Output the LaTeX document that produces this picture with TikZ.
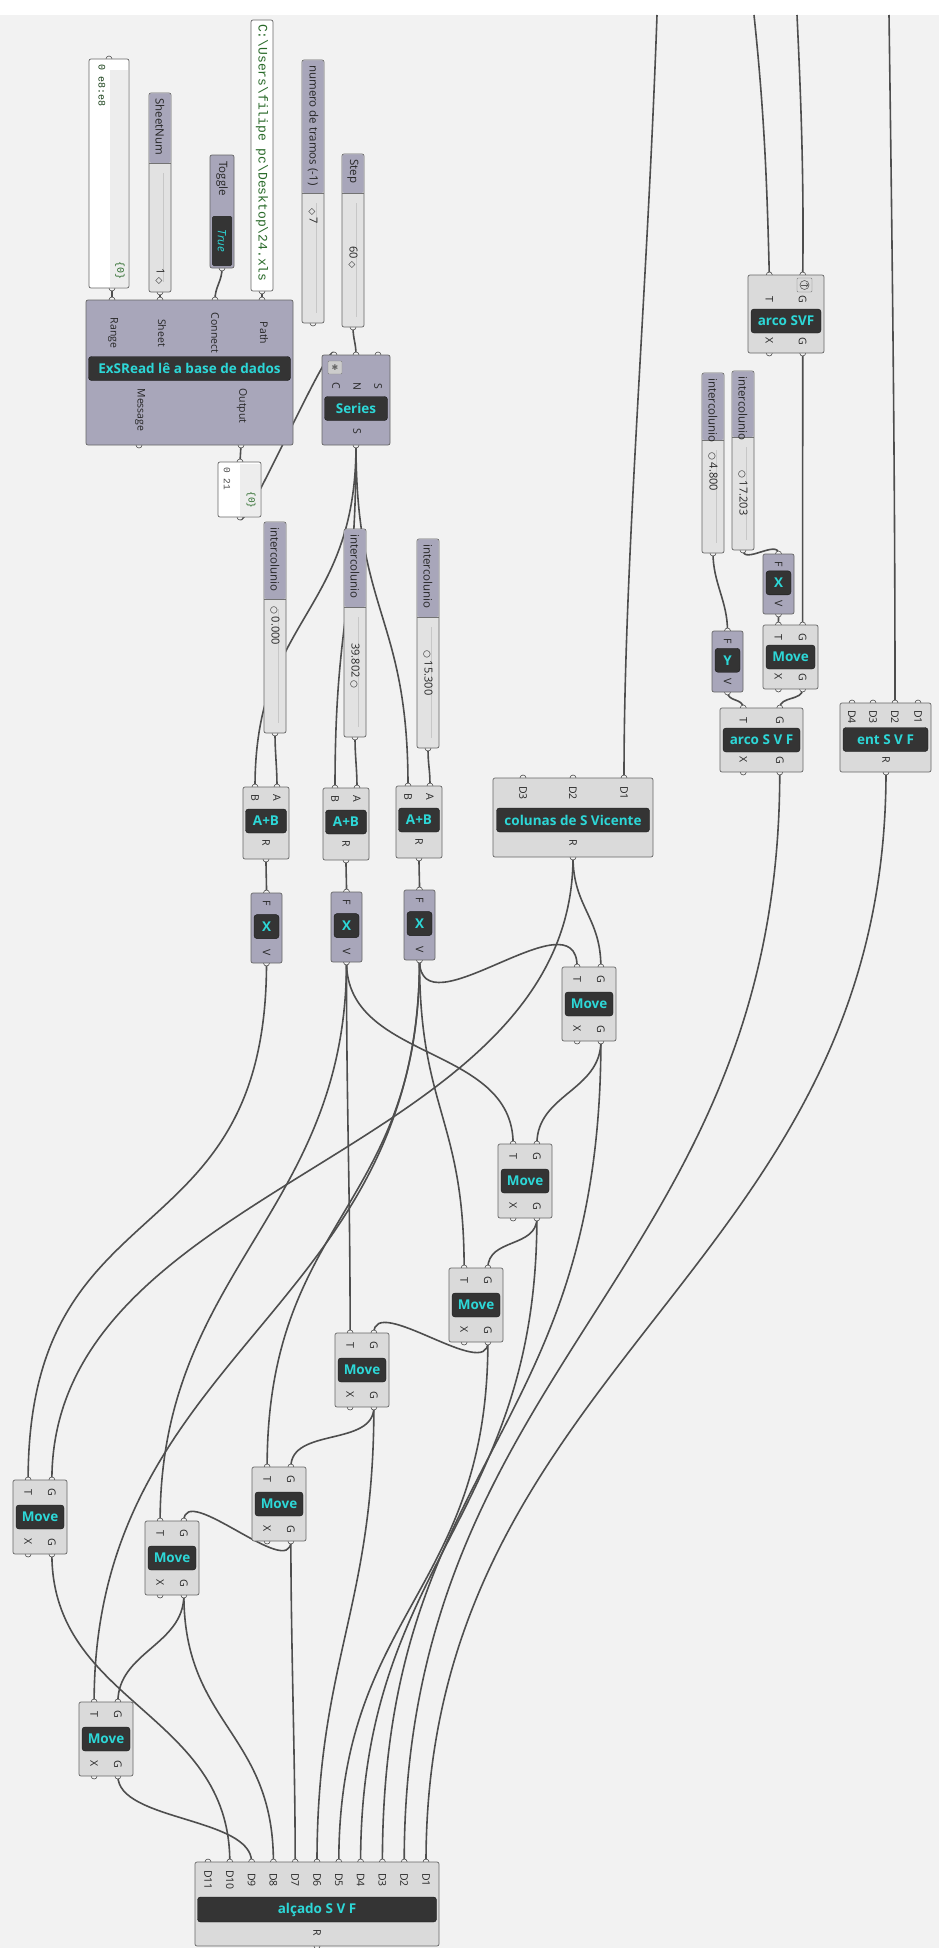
\documentclass[tikz,border=0pt]{standalone}
\usepackage{fontspec}
\setmainfont{Open Sans}
\setmonofont{Liberation Mono}
\newfontfamily\symfont{DejaVu Sans}
\usetikzlibrary{calc}

\definecolor{canvasgray}{RGB}{242,242,242}
\definecolor{boxgray}{RGB}{218,218,218}
\definecolor{sliderbody}{RGB}{226,226,226}
\definecolor{boxlilac}{RGB}{168,166,186}
\definecolor{barblack}{RGB}{52,52,52}
\definecolor{barcyan}{RGB}{45,215,215}
\definecolor{wiregray}{RGB}{78,78,78}
\definecolor{portwhite}{RGB}{245,245,245}
\definecolor{panelgreen}{RGB}{40,105,40}

\pgfdeclarelayer{canvas}
\pgfdeclarelayer{wires}
\pgfsetlayers{canvas,wires,main}

\tikzset{
  wire/.style={draw=wiregray,line width=1.6pt},
  port/.style={fill=portwhite,draw=black!70,line width=.6pt},
  greybox/.style={fill=boxgray,draw=black!60,line width=.7pt,rounded corners=2pt},
  lilacbox/.style={fill=boxlilac,draw=black!60,line width=.7pt,rounded corners=2pt},
  panelbox/.style={fill=white,draw=black!60,line width=.7pt,rounded corners=2pt},
  namebar/.style={fill=barblack,draw=black!90,rounded corners=3pt,text=barcyan,
    font=\bfseries\fontsize{13.5}{14}\selectfont,inner sep=0pt,minimum height=24pt},
  plabel/.style={rotate=-90,inner sep=0pt,text=black!85,font=\fontsize{10.5}{11}\selectfont},
  slabel/.style={plabel,anchor=west,font=\fontsize{11.5}{12}\selectfont},
}

% wire out of an output (below) into an input (above)
\newcommand{\wire}[3][60]{\draw[wire] (#2) .. controls +(0,#1) and +(0,-#1) .. (#3);}

% Move-like component: [shift] name, left, top, width, height, title
\newcommand{\movecomp}[7][0]{%
  \pgfmathsetmacro{\mxa}{#3+0.28*#5}%
  \pgfmathsetmacro{\mxb}{#3+0.72*#5}%
  \pgfmathsetmacro{\mxc}{#3+0.5*#5}%
  \pgfmathsetmacro{\myb}{#4+#6}%
  \pgfmathsetmacro{\myc}{#4+0.5*#6+#1}%
  \pgfmathsetmacro{\myl}{12+1.8*#1}%
  \coordinate (#2-t) at (\mxa,#4);
  \coordinate (#2-g) at (\mxb,#4);
  \coordinate (#2-x) at (\mxa,\myb);
  \coordinate (#2-o) at (\mxb,\myb);
  \foreach \q in {t,g,x,o}{\filldraw[port] (#2-\q) circle (3pt);}
  \draw[greybox] (#3,#4) rectangle (#3+#5,\myb);
  \node[namebar,minimum width=#5-6] (#2) at (\mxc,\myc) {#7};
  \node[plabel] (#2-lt) at ($(#2-t)+(0,\myl)$) {T};
  \node[plabel] (#2-lg) at ($(#2-g)+(0,\myl)$) {G};
  \node[plabel] (#2-lx) at ($(#2-x)+(0,-12)$) {X};
  \node[plabel] (#2-lo) at ($(#2-o)+(0,-12)$) {G};
}

% vector component: name, left, top, height, letter
\newcommand{\veccomp}[5]{%
  \pgfmathsetmacro{\vxc}{#2+15.5}%
  \pgfmathsetmacro{\vyb}{#3+#4}%
  \coordinate (#1-f) at (\vxc,#3);
  \coordinate (#1-v) at (\vxc,\vyb);
  \foreach \q in {f,v}{\filldraw[port] (#1-\q) circle (3pt);}
  \draw[lilacbox] (#2,#3) rectangle (#2+31,\vyb);
  \node[namebar,minimum width=25] (#1) at (\vxc,#3+0.48*#4) {#5};
  \node[plabel] (#1-lf) at ($(#1-f)+(0,10)$) {F};
  \node[plabel] (#1-lv) at ($(#1-v)+(0,-10)$) {V};
}

% addition component: name, left, top
\newcommand{\addcomp}[3]{%
  \coordinate (#1-b) at (#2+12,#3);
  \coordinate (#1-a) at (#2+34,#3);
  \coordinate (#1-r) at (#2+23,#3+72);
  \foreach \q in {a,b,r}{\filldraw[port] (#1-\q) circle (3pt);}
  \draw[greybox] (#2,#3) rectangle (#2+46,#3+72);
  \node[namebar,minimum width=41] (#1) at (#2+23,#3+34) {A+B};
  \node[plabel] (#1-lb) at ($(#1-b)+(0,11)$) {B};
  \node[plabel] (#1-la) at ($(#1-a)+(0,11)$) {A};
  \node[plabel] (#1-lr) at ($(#1-r)+(0,-16)$) {R};
}

% number slider: name, left, top, split, bottom, label, value, value y
\newcommand{\slidercomp}[8]{%
  \pgfmathsetmacro{\sxc}{#2+11}%
  \coordinate (#1-o) at (\sxc,#5);
  \filldraw[port] (#1-o) circle (3pt);
  \draw[greybox,fill=sliderbody] (#2,#3) rectangle (#2+22,#5);
  \fill[boxlilac,rounded corners=2pt] (#2+.4,#3+.4) rectangle (#2+21.6,#4);
  \draw[black!55,line width=.6pt] (#2,#4) -- (#2+22,#4);
  \draw[black!22,line width=.5pt] (\sxc+3,#4+10) -- (\sxc+3,#5-10);
  \node[slabel] (#1-name) at (\sxc,#3+5) {#6};
  \node[slabel,font=\fontsize{11}{12}\selectfont,text=black!85] (#1-val) at (\sxc,#8) {#7};
}
\newcommand{\grip}{{\symfont\fontsize{9}{9}\selectfont ○}}
\newcommand{\lozg}{{\symfont\fontsize{9}{9}\selectfont ◇}}

\begin{document}
\begin{tikzpicture}[x=1pt,y=-1pt]
\useasboundingbox (0,0) rectangle (939,1948);

\begin{pgfonlayer}{canvas}
  \fill[canvasgray] (0,15) rectangle (939,1948);
  \fill[white] (0,0) rectangle (939,15);
\end{pgfonlayer}

% ---- data input ----
\coordinate (rng-i) at (109,59);
\coordinate (rng-o) at (112,288);
\filldraw[port] (rng-i) circle (3pt);
\filldraw[port] (rng-o) circle (3pt);
\draw[panelbox] (89,59) rectangle (129,288);
\fill[black!7] (110,70) rectangle (128,287);
\node[slabel,text=panelgreen!60!black,font=\ttfamily\fontsize{10}{10}\selectfont] (rng-txt) at (102,64) {0 e8:e8};
\node[plabel,text=panelgreen,font=\ttfamily\fontsize{10}{10}\selectfont] (rng-path) at (120,270) {\{0\}};

\slidercomp{sht}{149}{93}{163}{292}{SheetNum}{1 \lozg}{268}

\coordinate (tog-o) at (222,268);
\filldraw[port] (tog-o) circle (3pt);
\draw[lilacbox] (210,155) rectangle (234,268);
\fill[barblack,rounded corners=1.5pt] (212,216) rectangle (232,266);
\node[slabel] (tog-name) at (222,161) {Toggle};
\node[plabel,text=barcyan,font=\itshape\fontsize{11.5}{12}\selectfont] (tog-val) at (222,241) {True};

\coordinate (pth-o) at (262,291);
\filldraw[port] (pth-o) circle (3pt);
\draw[panelbox] (251,20) rectangle (273,291);
\node[slabel,text=panelgreen,font=\ttfamily\fontsize{13}{13}\selectfont] (pth-txt) at (262,24)
  {C:\textbackslash Users\textbackslash filipe pc\textbackslash Desktop\textbackslash 24.xls};

\slidercomp{num}{302}{60}{193}{323}{numero de tramos (-1)}{\lozg\ 7}{208}
\slidercomp{stp}{342}{154}{193}{327}{Step}{60 \lozg}{246}

% ---- excel reader ----
\coordinate (exs-range) at (112,300);
\coordinate (exs-sheet) at (160,300);
\coordinate (exs-connect) at (215,300);
\coordinate (exs-path) at (262,300);
\coordinate (exs-message) at (139,445);
\coordinate (exs-output) at (241,445);
\foreach \q in {range,sheet,connect,path,message,output}{\filldraw[port] (exs-\q) circle (3pt);}
\draw[lilacbox] (86,300) rectangle (293,445);
\node[namebar,minimum width=202] (exs) at (189.5,368.5) {ExSRead lê a base de dados};
\node[plabel] (exs-l1) at (113,333) {Range};
\node[plabel] (exs-l2) at (162,333) {Sheet};
\node[plabel] (exs-l3) at (215,333) {Connect};
\node[plabel] (exs-l4) at (264,333) {Path};
\node[plabel] (exs-l5) at (140,410) {Message};
\node[plabel] (exs-l6) at (242,406) {Output};

\coordinate (opn-i) at (240,462);
\coordinate (opn-o) at (240,517);
\filldraw[port] (opn-i) circle (3pt);
\filldraw[port] (opn-o) circle (3pt);
\draw[panelbox] (218,462) rectangle (261,517);
\fill[black!7] (240,464) rectangle (260,516);
\node[slabel,text=black!70,font=\ttfamily\fontsize{9.5}{10}\selectfont] (opn-txt) at (227,467) {0 21};
\node[plabel,text=panelgreen,font=\ttfamily\fontsize{9.5}{10}\selectfont] (opn-path) at (251,500) {\{0\}};

% ---- series ----
\coordinate (ser-c) at (334,355);
\coordinate (ser-n) at (356,355);
\coordinate (ser-s) at (378,355);
\coordinate (ser-o) at (356,445);
\foreach \q in {c,n,s,o}{\filldraw[port] (ser-\q) circle (3pt);}
\draw[lilacbox] (322,355) rectangle (390,445);
\draw[fill=white!80!black,draw=black!50,rounded corners=1pt] (328,361) rectangle (342,374);
\node[inner sep=0pt,text=black!60] (ser-icon) at (335,367.5) {\symfont\fontsize{8}{8}\selectfont ✱};
\node[plabel] (ser-lc) at (336,386) {C};
\node[plabel] (ser-ln) at (357,386) {N};
\node[plabel] (ser-ls) at (378,386) {S};
\node[namebar,minimum width=63] (ser) at (356,408.5) {Series};
\node[plabel] (ser-lo) at (357,431) {S};

% ---- offsets ----
\slidercomp{ic1}{264}{522}{599}{733}{intercolunio}{\grip\ 0.000}{606}
\slidercomp{ic2}{344}{529}{607}{737}{intercolunio}{39.802 \grip}{643}
\slidercomp{ic3}{417}{539}{617}{748}{intercolunio}{\grip\ 15.300}{650}

\addcomp{ab1}{243}{787}
\addcomp{ab2}{323}{788}
\addcomp{ab3}{396}{786}

\veccomp{x1}{251}{893}{70}{X}
\veccomp{x2}{331}{892}{70}{X}
\veccomp{x3}{404}{890}{70}{X}

% ---- right branch ----
\movecomp[7]{arcA}{748}{275}{76}{78}{arco SVF}
\draw[fill=white!85!black,draw=black!50,rounded corners=1pt] (797,278) rectangle (812,292);
\draw[black!65,line width=.6pt] (804.5,285) circle (4.5pt);
\draw[black!65,line width=.7pt,->] (801,285) -- (808.5,285);

\slidercomp{ic4}{702}{373}{440}{553}{intercolunio}{\grip\ 4.800}{452}
\slidercomp{ic5}{732}{371}{437}{550}{intercolunio}{\grip\ 17.203}{470}
\veccomp{xr}{763}{554}{60}{X}
\veccomp{yr}{712}{631}{61}{Y}
\movecomp{mr}{763}{625}{55}{64}{Move}
\movecomp{arcB}{720}{708}{83}{64}{arco S V F}

% entrance
\coordinate (ent-d4) at (852,703);
\coordinate (ent-d3) at (873,703);
\coordinate (ent-d2) at (895,703);
\coordinate (ent-d1) at (918,703);
\coordinate (ent-r) at (886,772);
\foreach \q in {d1,d2,d3,d4,r}{\filldraw[port] (ent-\q) circle (3pt);}
\draw[greybox] (840,703) rectangle (931,772);
\foreach \k/\xx in {4/852,3/873,2/895,1/918}{\node[plabel] (ent-l\k) at (\xx,717) {D\k};}
\node[namebar,minimum width=85] (ent) at (885.5,739.5) {ent S V F};
\node[plabel] (ent-lr) at (886,760) {R};

% columns
\coordinate (col-d3) at (523,778);
\coordinate (col-d2) at (573,778);
\coordinate (col-d1) at (624,778);
\coordinate (col-r) at (573,857);
\foreach \q in {d1,d2,d3,r}{\filldraw[port] (col-\q) circle (3pt);}
\draw[greybox] (493,778) rectangle (653,857);
\foreach \k/\xx in {3/523,2/573,1/624}{\node[plabel] (col-l\k) at (\xx,793) {D\k};}
\node[namebar,minimum width=153] (col) at (573,820) {colunas de S Vicente};
\node[plabel] (col-lr) at (573,843) {R};

% ---- moves down the elevation ----
\movecomp{m1}{562}{967}{54}{74}{Move}
\movecomp{m2}{498}{1144}{54}{74}{Move}
\movecomp{m3}{449}{1268}{54}{74}{Move}
\movecomp{m4}{335}{1333}{54}{74}{Move}
\movecomp{m5}{252}{1467}{54}{74}{Move}
\movecomp{m6}{13}{1480}{54}{74}{Move}
\movecomp{m7}{145}{1521}{54}{74}{Move}
\movecomp{m8}{79}{1702}{54}{74}{Move}

% elevation merge
\foreach \k in {1,...,11}{
  \pgfmathsetmacro{\dx}{426-(\k-1)*21.8}
  \coordinate (alc-d\k) at (\dx,1862);
  \filldraw[port] (alc-d\k) circle (3pt);
}
\coordinate (alc-r) at (317,1946);
\filldraw[port] (alc-r) circle (3pt);
\draw[greybox] (195,1862) rectangle (439,1946);
\foreach \k in {1,...,11}{
  \pgfmathsetmacro{\dx}{426-(\k-1)*21.8}
  \node[plabel] (alc-l\k) at (\dx,1880) {D\k};
}
\node[namebar,minimum width=239,minimum height=25pt] (alc) at (317,1909.5) {alçado S V F};
\node[plabel] (alc-lr) at (317,1933) {R};

% free ends entering from above
\coordinate (top-col) at (657,15);
\coordinate (top-arct) at (754,15);
\coordinate (top-arcg) at (797,15);
\coordinate (top-ent) at (889,15);

\begin{pgfonlayer}{wires}
  \draw[wire] (top-col) .. controls (647,300) and (624,560) .. (col-d1);
  \draw[wire] (top-arct) .. controls (764,110) and (767,180) .. (arcA-t);
  \draw[wire] (top-arcg) .. controls (801,100) and (804,180) .. (arcA-g);
  \draw[wire] (top-ent) .. controls (893,300) and (895,500) .. (ent-d2);

  \wire[6]{rng-o}{exs-range}
  \wire[5]{sht-o}{exs-sheet}
  \wire[14]{tog-o}{exs-connect}
  \wire[5]{pth-o}{exs-path}
  \wire[8]{exs-output}{opn-i}
  \wire[28]{opn-o}{ser-c}
  \wire[12]{stp-o}{ser-n}

  \foreach \n in {ab1,ab2,ab3}{\wire[170]{ser-o}{\n-b}}
  \wire[20]{ic1-o}{ab1-a}
  \wire[20]{ic2-o}{ab2-a}
  \wire[18]{ic3-o}{ab3-a}
  \wire[14]{ab1-r}{x1-f}
  \wire[14]{ab2-r}{x2-f}
  \wire[14]{ab3-r}{x3-f}

  \wire[50]{col-r}{m1-g}
  \wire[300]{col-r}{m6-g}
  \wire[75]{x3-v}{m1-t}
  \wire[100]{x2-v}{m2-t}
  \wire[150]{x3-v}{m3-t}
  \wire[150]{x2-v}{m4-t}
  \wire[250]{x3-v}{m5-t}
  \wire[300]{x1-v}{m6-t}
  \wire[250]{x2-v}{m7-t}
  \wire[350]{x3-v}{m8-t}

  \wire[50]{m1-o}{m2-g}
  \wire[30]{m2-o}{m3-g}
  \wire[40]{m3-o}{m4-g}
  \wire[40]{m4-o}{m5-g}
  \wire[40]{m5-o}{m7-g}
  \wire[50]{m7-o}{m8-g}

  \wire[400]{m1-o}{alc-d3}
  \wire[300]{m2-o}{alc-d4}
  \wire[250]{m3-o}{alc-d5}
  \wire[200]{m4-o}{alc-d6}
  \wire[100]{m5-o}{alc-d7}
  \wire[130]{m7-o}{alc-d8}
  \wire[45]{m8-o}{alc-d9}
  \wire[150]{m6-o}{alc-d10}
  \wire[500]{arcB-o}{alc-d2}
  \wire[500]{ent-r}{alc-d1}

  \wire[15]{ic5-o}{xr-f}
  \wire[30]{ic4-o}{yr-f}
  \wire[5]{xr-v}{mr-t}
  \wire[100]{arcA-o}{mr-g}
  \wire[10]{yr-v}{arcB-t}
  \wire[12]{mr-o}{arcB-g}
\end{pgfonlayer}
\end{tikzpicture}
\end{document}
